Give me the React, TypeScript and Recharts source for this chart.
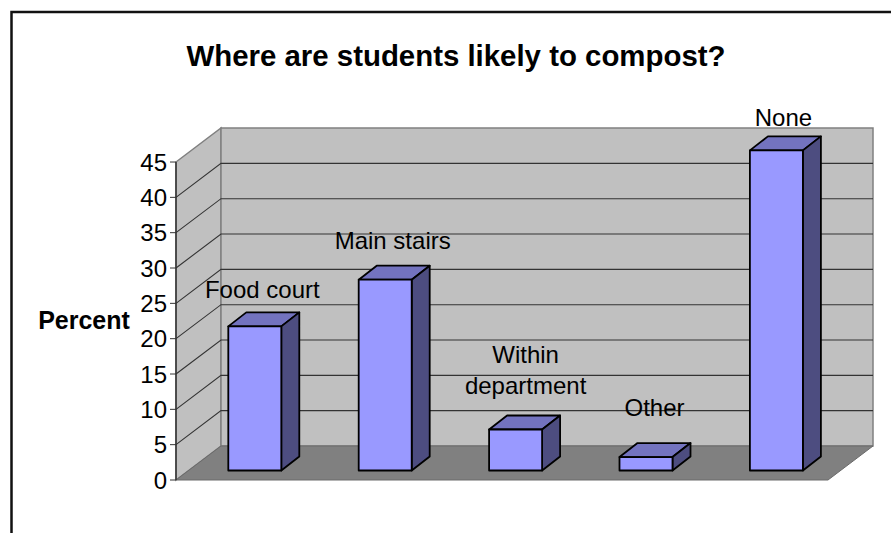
import { Bar, BarChart, CartesianGrid, LabelList, XAxis, YAxis } from "recharts";

const categories = ["Food court", "Main stairs", "Within\ndepartment", "Other", "None"];
const percents = [20.4, 27, 5.8, 1.9, 45.3];
const percentTicks = [0, 5, 10, 15, 20, 25, 30, 35, 40, 45];

const data = categories.map((category, i) => ({ category, percent: percents[i] }));

const FONT = "'Liberation Sans', Arial, sans-serif";

// level of the 45 tick and of the 0 tick
const BOX_TOP = 162;
const BOX_BOTTOM = 480;
// wall depth of the fake 3D box, and of each column
const WALL_DX = 45;
const WALL_DY = 34;
const BAR_DX = 18;
const BAR_DY = 14;
// columns stand a little behind the front edge of the floor
const BAR_SHIFT_X = 13.3;
const BAR_SHIFT_Y = 9.5;

const pts = (list: number[][]) => list.map((p) => p.join(",")).join(" ");

const WallGridLine = (props: any) => {
  const { x1, x2, y1, index } = props;
  const left = x1;
  const right = x2;
  const top = BOX_TOP;
  const bottom = BOX_BOTTOM;
  return (
    <g>
      {index === 0 && (
        <g>
          <polygon
            points={pts([
              [left, top],
              [left + WALL_DX, top - WALL_DY],
              [left + WALL_DX, bottom - WALL_DY],
              [left, bottom],
            ])}
            fill="#c0c0c0"
            stroke="#808080"
            strokeWidth={1.5}
          />
          <polygon
            points={pts([
              [left + WALL_DX, top - WALL_DY],
              [right + WALL_DX, top - WALL_DY],
              [right + WALL_DX, bottom - WALL_DY],
              [left + WALL_DX, bottom - WALL_DY],
            ])}
            fill="#c0c0c0"
            stroke="#808080"
            strokeWidth={1.5}
          />
          <polygon
            points={pts([
              [left, bottom],
              [left + WALL_DX, bottom - WALL_DY],
              [right + WALL_DX, bottom - WALL_DY],
              [right, bottom],
            ])}
            fill="#808080"
            stroke="#6a6a6a"
            strokeWidth={1}
          />
          {/* axis line stops at the 45 tick, the domain runs a bit past it */}
          <line x1={left} y1={top} x2={left} y2={bottom} stroke="#333" strokeWidth={1.5} />
        </g>
      )}
      {/* the 0 and 45 levels are already the box edges */}
      {y1 < bottom - 1 && y1 > top + 1 && (
        <polyline
          points={pts([
            [left, y1],
            [left + WALL_DX, y1 - WALL_DY],
            [right + WALL_DX, y1 - WALL_DY],
          ])}
          fill="none"
          stroke="#333"
          strokeWidth={1.1}
        />
      )}
    </g>
  );
};

const Column = (props: any) => {
  const { x, y, width, height } = props;
  const l = x + BAR_SHIFT_X;
  const r = l + width;
  const t = y - BAR_SHIFT_Y;
  const b = t + height;
  const edge = { stroke: "#000", strokeWidth: 1.8, strokeLinejoin: "round" as const };
  return (
    <g>
      <polygon
        points={pts([[l, t], [l + BAR_DX, t - BAR_DY], [r + BAR_DX, t - BAR_DY], [r, t]])}
        fill="#7373bf"
        {...edge}
      />
      <polygon
        points={pts([[r, t], [r + BAR_DX, t - BAR_DY], [r + BAR_DX, b - BAR_DY], [r, b]])}
        fill="#4d4d80"
        {...edge}
      />
      <rect x={l} y={t} width={width} height={height} fill="#9999ff" {...edge} />
    </g>
  );
};

// the gap and sideways offset of a column's name differ per column
const labelLift = [22, 25, 30, 35, 18];
const labelNudge = [7.5, 7.5, 10, 8.5, 7];

const ColumnName = (props: any) => {
  const { x, y, width, value, index } = props;
  const lines = String(value).split("\n");
  const cx = x + width / 2 + BAR_SHIFT_X + labelNudge[index];
  const last = y - BAR_SHIFT_Y - BAR_DY - labelLift[index] + 8;
  return (
    <text textAnchor="middle" fontSize={24} fontFamily={FONT} fill="#000">
      {lines.map((line, i) => (
        <tspan key={line} x={cx} y={last - (lines.length - 1 - i) * 31}>
          {line}
        </tspan>
      ))}
    </text>
  );
};

const App = () => (
  <div style={{ position: "absolute", left: 0, top: 0, width: 891, height: 533, background: "#fff" }}>
    <svg width={891} height={533} style={{ position: "absolute", left: 0, top: 0 }}>
      <polyline points="11.5,533 11.5,12 891,12" fill="none" stroke="#111" strokeWidth={2.5} />
      <text x={456} y={66} textAnchor="middle" fontSize={29.4} fontWeight="bold" fontFamily={FONT}>
        Where are students likely to compost?
      </text>
      <text x={84} y={329} textAnchor="middle" fontSize={25} fontWeight="bold" fontFamily={FONT}>
        Percent
      </text>
    </svg>
    <div style={{ position: "absolute", left: 0, top: 0 }}>
      <BarChart
        width={891}
        height={533}
        data={data}
        barSize={53}
        margin={{ top: 159.9, right: 63, bottom: 53, left: 126 }}
      >
        <CartesianGrid horizontal={(p: any) => <WallGridLine {...p} key={p.key} />} vertical={false} />
        <XAxis dataKey="category" hide />
        <YAxis
          width={50}
          domain={[0, 45.3]}
          ticks={percentTicks}
          interval={0}
          tickSize={6}
          tickMargin={3}
          axisLine={false}
          tickLine={{ stroke: "#333", strokeWidth: 1 }}
          tick={{ fill: "#000", fontSize: 24, fontFamily: FONT }}
        />
        <Bar dataKey="percent" shape={Column} isAnimationActive={false}>
          <LabelList dataKey="category" content={ColumnName} />
        </Bar>
      </BarChart>
    </div>
  </div>
);

export default App;
